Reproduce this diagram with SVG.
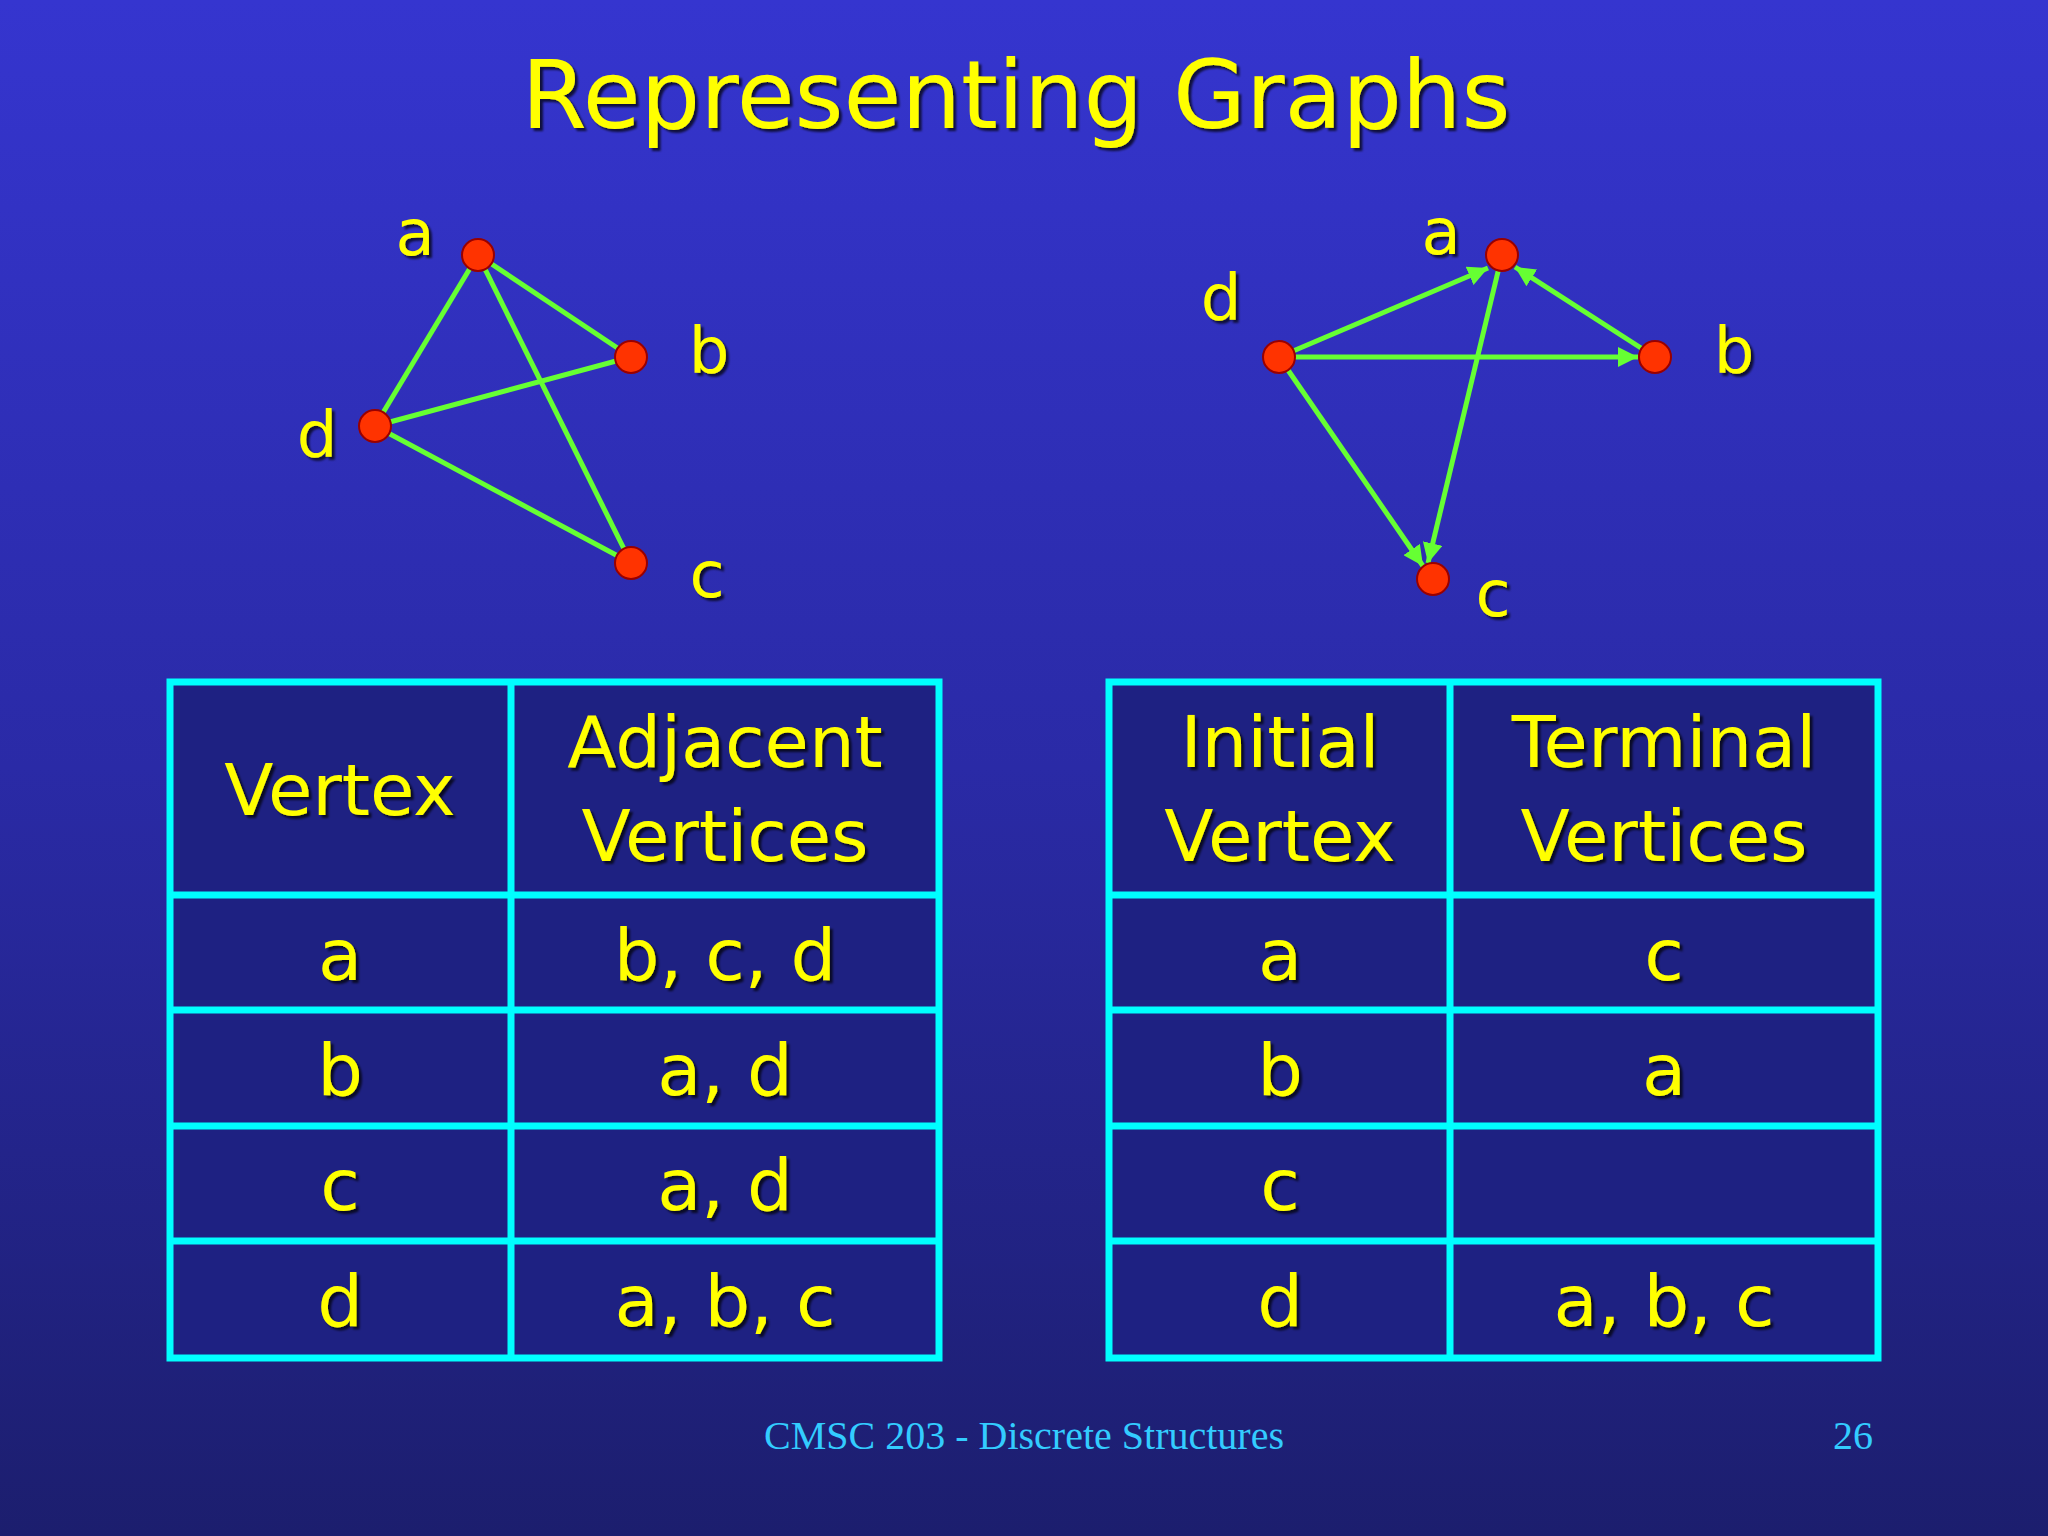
<svg xmlns="http://www.w3.org/2000/svg" width="2048" height="1536" viewBox="0 0 2048 1536">
<defs>
<linearGradient id="bg" x1="0" y1="0" x2="0" y2="1">
<stop offset="0" stop-color="#3535cf"/><stop offset="0.5" stop-color="#2a2aa6"/><stop offset="1" stop-color="#1c1e6e"/>
</linearGradient>
<marker id="ar" viewBox="0 0 10 10" refX="10" refY="5" markerWidth="4" markerHeight="4" orient="auto" markerUnits="strokeWidth">
<path d="M0,0 L10,5 L0,10 z" fill="#66ff33"/>
</marker>
<filter id="sh"><feDropShadow dx="3" dy="3" stdDeviation="1" flood-color="#000" flood-opacity="0.7"/></filter>
</defs>
<style>
.t{font-family:"DejaVu Sans",sans-serif;fill:#ffff00;text-anchor:middle;filter:url(#sh)}
.lb{font-size:64px}
.cell{font-size:72px}
.e{stroke:#66ff33;stroke-width:5;fill:none}
.n{fill:#ff3300;stroke:#990000;stroke-width:2}
.tb{fill:#1e2182;stroke:#00ffff;stroke-width:7}
.ln{stroke:#00ffff;stroke-width:7}
.f{font-family:"Liberation Serif",serif;font-size:40px;fill:#33ccff}
</style>
<rect width="2048" height="1536" fill="url(#bg)"/>
<text class="t" x="1016" y="128" font-size="94">Representing Graphs</text>
<g id="connectors">
<line class="e" x1="478" y1="255" x2="631" y2="357"/>
<line class="e" x1="478" y1="255" x2="375" y2="426"/>
<line class="e" x1="478" y1="255" x2="631" y2="563"/>
<line class="e" x1="375" y1="426" x2="631" y2="357"/>
<line class="e" x1="375" y1="426" x2="631" y2="563"/>
<line class="e" x1="1279" y1="357" x2="1488" y2="268" marker-end="url(#ar)"/>
<line class="e" x1="1655" y1="357" x2="1515" y2="267" marker-end="url(#ar)"/>
<line class="e" x1="1279" y1="357" x2="1638" y2="357" marker-end="url(#ar)"/>
<line class="e" x1="1279" y1="357" x2="1423" y2="566" marker-end="url(#ar)"/>
<line class="e" x1="1502" y1="255" x2="1428" y2="563" marker-end="url(#ar)"/>
</g>
<g id="L_a"><circle class="n" cx="478" cy="255" r="16"/><text class="t lb" x="415" y="255">a</text></g>
<g id="L_b"><circle class="n" cx="631" cy="357" r="16"/><text class="t lb" x="709" y="373">b</text></g>
<g id="L_d"><circle class="n" cx="375" cy="426" r="16"/><text class="t lb" x="317" y="457">d</text></g>
<g id="L_c"><circle class="n" cx="631" cy="563" r="16"/><text class="t lb" x="707" y="597">c</text></g>
<g id="R_a"><circle class="n" cx="1502" cy="255" r="16"/><text class="t lb" x="1441" y="254">a</text></g>
<g id="R_d"><circle class="n" cx="1279" cy="357" r="16"/><text class="t lb" x="1221" y="320">d</text></g>
<g id="R_b"><circle class="n" cx="1655" cy="357" r="16"/><text class="t lb" x="1734" y="373">b</text></g>
<g id="R_c"><circle class="n" cx="1433" cy="579" r="16"/><text class="t lb" x="1493" y="616">c</text></g>
<g id="table1">
<rect class="tb" x="170" y="682" width="769" height="676"/>
<line class="ln" x1="511" y1="682" x2="511" y2="1358"/>
<line class="ln" x1="170" y1="895" x2="939" y2="895"/>
<line class="ln" x1="170" y1="1010" x2="939" y2="1010"/>
<line class="ln" x1="170" y1="1126" x2="939" y2="1126"/>
<line class="ln" x1="170" y1="1241" x2="939" y2="1241"/>
<text class="t cell" x="340" y="815">Vertex</text>
<text class="t cell" x="725" y="767">Adjacent</text>
<text class="t cell" x="725" y="861">Vertices</text>
<text class="t cell" x="340" y="980">a</text><text class="t cell" x="725" y="980">b, c, d</text>
<text class="t cell" x="340" y="1095">b</text><text class="t cell" x="725" y="1095">a, d</text>
<text class="t cell" x="340" y="1210">c</text><text class="t cell" x="725" y="1210">a, d</text>
<text class="t cell" x="340" y="1326">d</text><text class="t cell" x="725" y="1326">a, b, c</text>
</g>
<g id="table2">
<rect class="tb" x="1109" y="682" width="769" height="676"/>
<line class="ln" x1="1450" y1="682" x2="1450" y2="1358"/>
<line class="ln" x1="1109" y1="895" x2="1878" y2="895"/>
<line class="ln" x1="1109" y1="1010" x2="1878" y2="1010"/>
<line class="ln" x1="1109" y1="1126" x2="1878" y2="1126"/>
<line class="ln" x1="1109" y1="1241" x2="1878" y2="1241"/>
<text class="t cell" x="1280" y="767">Initial</text>
<text class="t cell" x="1280" y="861">Vertex</text>
<text class="t cell" x="1664" y="767">Terminal</text>
<text class="t cell" x="1664" y="861">Vertices</text>
<text class="t cell" x="1280" y="980">a</text><text class="t cell" x="1664" y="980">c</text>
<text class="t cell" x="1280" y="1095">b</text><text class="t cell" x="1664" y="1095">a</text>
<text class="t cell" x="1280" y="1210">c</text>
<text class="t cell" x="1280" y="1326">d</text><text class="t cell" x="1664" y="1326">a, b, c</text>
</g>
<text class="f" x="1024" y="1449" text-anchor="middle">CMSC 203 - Discrete Structures</text>
<text class="f" x="1853" y="1449" text-anchor="middle">26</text>
</svg>
